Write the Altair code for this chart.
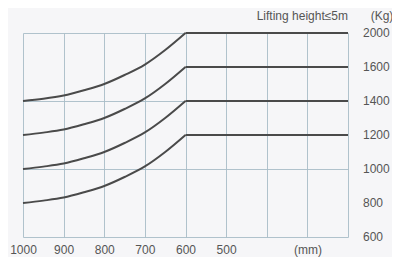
import altair as alt
import pandas as pd

# x positions (mm) where the curved part is sampled
x_curve = [1000, 950, 900, 850, 800, 750, 700, 650, 600]
x_flat = [600, 200]
series = ["s2000", "s1600", "s1400", "s1200"]
curve_vals = {
    "s2000": [1400, 1413, 1432, 1463, 1500, 1553, 1629, 1800, 2000],
    "s1600": [1200, 1214, 1232, 1263, 1300, 1353, 1415, 1500, 1600],
    "s1400": [1000, 1014, 1032, 1063, 1100, 1153, 1215, 1300, 1400],
    "s1200": [800, 814, 832, 863, 900, 953, 1015, 1100, 1200],
}
flat_vals = {"s2000": 2000, "s1600": 1600, "s1400": 1400, "s1200": 1200}
x_ticks = [1000, 900, 800, 700, 600, 500, 400, 300, 200]
y_ticks = [600, 800, 1000, 1200, 1400, 1600, 2000]

rows_c = []
for s in series:
    for xv, yv in zip(x_curve, curve_vals[s]):
        rows_c.append({"s": s, "mm": xv, "kg": yv})
rows_f = []
for s in series:
    for xv in x_flat:
        rows_f.append({"s": s, "mm": xv, "kg": flat_vals[s]})
df_c = pd.DataFrame(rows_c)
df_f = pd.DataFrame(rows_f)
df_yl = pd.DataFrame({"kg": y_ticks})

W, H = 325, 204
xs = alt.Scale(domain=[200, 1000], reverse=True, nice=False)
ys = alt.Scale(domain=[600, 1600, 2000], range=[H, H / 6, 0], nice=False, zero=False)

font = "Liberation Sans"
lab_col = "#555555"

xenc = alt.X("mm:Q", scale=xs, axis=alt.Axis(
    values=x_ticks, format="d", labelOverlap=False, labelFlush=False,
    labelExpr="datum.value == 300 ? '(mm)' : (datum.value >= 500 ? datum.label : '')",
    grid=True, domain=False, ticks=False, title=None, labelPadding=7,
    labelFontSize=12, labelColor=lab_col, labelFont=font))
yenc = alt.Y("kg:Q", scale=ys, axis=alt.Axis(
    values=y_ticks, grid=True, domain=False, labels=False,
    ticks=False, title=None))

curves = alt.Chart(df_c).mark_line(
    interpolate="monotone", color="#4a4a4a", strokeWidth=2
).encode(x=xenc, y=yenc, detail="s:N")

flats = alt.Chart(df_f).mark_line(color="#4a4a4a", strokeWidth=2).encode(
    x="mm:Q", y="kg:Q", detail="s:N")

ylabels = alt.Chart(df_yl).mark_text(
    align="left", baseline="middle", fontSize=12, color=lab_col, font=font
).encode(x=alt.value(W + 15), y="kg:Q", text=alt.Text("kg:Q", format="d"))

t1 = alt.Chart(pd.DataFrame({"t": ["Lifting height≤5m"]})).mark_text(
    align="right", baseline="middle", fontSize=12, color=lab_col,
    font=font).encode(x=alt.value(W), y=alt.value(-17), text="t:N")
t2 = alt.Chart(pd.DataFrame({"t": ["(Kg)"]})).mark_text(
    align="center", baseline="middle", fontSize=12, color=lab_col,
    font=font).encode(x=alt.value(W + 34), y=alt.value(-17), text="t:N")

chart = alt.layer(curves, flats, ylabels, t1, t2).properties(
    width=W, height=H,
    autosize=alt.AutoSizeParams(type="none"),
    padding={"left": 15, "top": 25, "right": 44, "bottom": 20},
    background="#f6f6f8",
).configure_view(stroke=None).configure_axis(
    gridColor="#a8bcc6", gridWidth=0.9, gridOpacity=1
)

chart.save("out.html", embed_options={"renderer": "svg", "actions": False})
